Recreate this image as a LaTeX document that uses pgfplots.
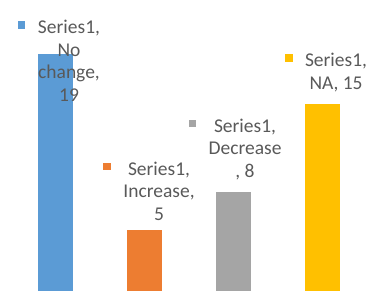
\documentclass[border=0pt]{standalone}
\usepackage{pgfplots}
\pgfplotsset{compat=1.18}
\usepackage{fontspec}
\setmainfont{Carlito}
\definecolor{cblue}{HTML}{5B9BD5}
\definecolor{corange}{HTML}{ED7D31}
\definecolor{cgray}{HTML}{A5A5A5}
\definecolor{cgold}{HTML}{FFC000}
\definecolor{ctext}{HTML}{595959}
\newcommand{\lab}[2]{\raisebox{5bp}{\textcolor{#1}{\rule{7.5bp}{7.5bp}}}\hspace{12.5bp}\begin{tabular}[t]{@{}c@{}}#2\end{tabular}}
\begin{document}
\begin{tikzpicture}
\begin{axis}[
  width=370bp, height=291bp, scale only axis,
  hide axis,
  xmin=-0.618, xmax=3.539,
  ymin=0.16, ymax=23.25,
  ybar, bar width=35bp, bar shift=0pt,
  clip mode=individual,
  nodes near coords style={font=\fontsize{19.5bp}{22.5bp}\selectfont, text=ctext, inner sep=0pt},
]
\addplot[fill=cblue, draw=none,
  nodes near coords={\lab{cblue}{Series1,\\No\\change,\\19}},
  every node near coord/.append style={anchor=north, yshift=36bp, xshift=4bp}]
  coordinates {(0,19)};
\addplot[fill=corange, draw=none,
  nodes near coords={\lab{corange}{Series1,\\Increase,\\5}},
  every node near coord/.append style={anchor=south, yshift=3bp, xshift=5bp}]
  coordinates {(1,5)};
\addplot[fill=cgray, draw=none,
  nodes near coords={\lab{cgray}{Series1,\\Decrease\\, 8}},
  every node near coord/.append style={anchor=south, yshift=8bp, xshift=2bp}]
  coordinates {(2,8)};
\addplot[fill=cgold, draw=none,
  nodes near coords={\lab{cgold}{Series1,\\NA, 15}},
  every node near coord/.append style={anchor=south, yshift=8bp, xshift=4bp}]
  coordinates {(3,15)};
\end{axis}
\pgfresetboundingbox
\useasboundingbox (current axis.south west) rectangle (current axis.north east);
\end{tikzpicture}
\end{document}
